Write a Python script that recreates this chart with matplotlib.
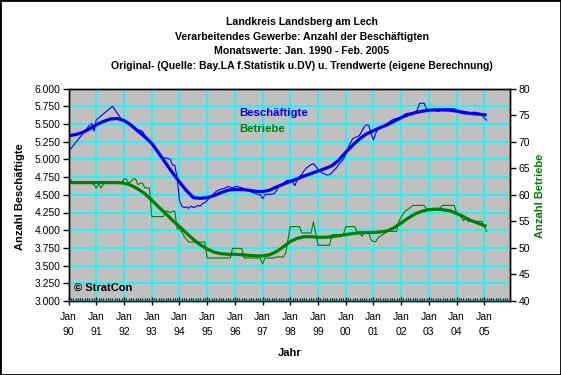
import numpy as np
import matplotlib.pyplot as plt
from matplotlib.patches import Rectangle
from matplotlib.ticker import FuncFormatter

plt.rcParams['font.family'] = ['Liberation Sans', 'DejaVu Sans']

# monthly original values Jan 1990 - Feb 2005
besch_orig = [
    5114, 5155, 5195, 5236, 5276, 5317, 5357, 5398, 5438, 5479, 5510, 5400,
    5560, 5587, 5614, 5641, 5668, 5695, 5722, 5750, 5703, 5656, 5608, 5561,
    5545, 5530, 5510, 5480, 5460, 5430, 5420, 5410, 5395, 5340, 5290, 5260,
    5225, 5180, 5140, 5090, 5030, 5020, 5020, 5015, 5000, 4920, 4916, 4740,
    4420, 4340, 4320, 4330, 4310, 4340, 4320, 4330, 4350, 4340, 4380, 4390,
    4420, 4460, 4490, 4520, 4550, 4565, 4580, 4585, 4600, 4615, 4610, 4595,
    4615, 4620, 4605, 4600, 4585, 4572, 4560, 4540, 4530, 4520, 4505, 4500,
    4445, 4500, 4510, 4505, 4510, 4515, 4560, 4620, 4640, 4662, 4690, 4709,
    4700, 4680, 4630, 4720, 4760, 4790, 4840, 4880, 4905, 4925, 4940, 4900,
    4860, 4830, 4805, 4790, 4780, 4785, 4810, 4850, 4880, 4930, 4970, 5000,
    5080, 5170, 5230, 5290, 5310, 5320, 5340, 5400, 5460, 5490, 5480, 5360,
    5275, 5370, 5430, 5465, 5470, 5490, 5510, 5530, 5557, 5570, 5580, 5585,
    5600, 5620, 5645, 5650, 5655, 5660, 5660, 5700, 5790, 5795, 5790, 5710,
    5700, 5698, 5698, 5690, 5674, 5690, 5707, 5715, 5715, 5715, 5715, 5715,
    5698, 5670, 5655, 5645, 5640, 5655, 5660, 5665, 5668, 5660, 5650, 5630,
    5585, 5555,
]

betr_orig = [
    62.8, 62.8, 62.2, 62.2, 62.2, 62.2, 62.2, 62.2, 62.2, 62.2, 62.2, 61.9,
    61.3, 62.0, 61.3, 62.0, 62.2, 62.2, 62.2, 62.2, 62.2, 62.2, 62.2, 62.2,
    63.0, 63.0, 62.2, 62.5, 63.0, 63.0, 61.9, 62.2, 62.2, 61.3, 61.3, 61.3,
    55.9, 55.9, 55.9, 55.9, 55.9, 55.9, 56.9, 56.9, 56.6, 56.9, 56.9, 53.6,
    53.6, 53.0, 52.2, 51.6, 51.1, 51.1, 51.1, 51.1, 51.1, 51.1, 51.1, 51.1,
    48.1, 48.1, 48.1, 48.1, 48.1, 48.1, 48.1, 48.1, 48.1, 48.1, 48.1, 49.9,
    49.9, 49.9, 49.9, 49.9, 48.1, 48.1, 48.1, 48.1, 48.1, 48.1, 48.1, 48.1,
    47.0, 48.1, 48.1, 48.1, 48.1, 48.1, 48.3, 48.3, 48.3, 48.3, 49.0, 51.5,
    54.0, 54.0, 54.0, 54.0, 54.0, 52.8, 52.8, 52.8, 52.8, 52.8, 54.9, 52.8,
    50.5, 50.5, 50.5, 50.5, 50.5, 50.5, 52.5, 52.5, 52.5, 52.5, 52.5, 52.5,
    54.0, 54.0, 54.0, 54.0, 54.0, 52.8, 52.8, 52.2, 52.8, 52.8, 52.8, 51.5,
    51.2, 51.2, 51.9, 52.2, 52.5, 52.8, 53.1, 53.1, 53.1, 53.1, 53.1, 55.0,
    55.8, 56.5, 57.0, 57.3, 57.6, 58.0, 58.0, 58.0, 58.0, 58.0, 58.0, 57.3,
    57.2, 57.2, 57.2, 57.3, 57.3, 57.6, 58.0, 58.0, 58.0, 58.0, 58.0, 58.0,
    56.6, 56.2, 55.9, 55.1, 55.6, 55.0, 55.0, 55.0, 55.0, 55.0, 55.0, 55.0,
    54.0, 53.1,
]

# trend values, every third month plus the last month
trend_months = list(range(0, 181, 3)) + [181]
besch_trend = [
    5335, 5350, 5380, 5430, 5490, 5535, 5570, 5578, 5550, 5485,
    5400, 5320, 5225, 5090, 4950, 4810, 4680, 4560, 4460, 4450,
    4460, 4490, 4530, 4565, 4575, 4575, 4565, 4550, 4545, 4565,
    4610, 4650, 4690, 4725, 4766, 4800, 4835, 4870, 4910, 4990,
    5100, 5200, 5290, 5360, 5405, 5450, 5490, 5540, 5590, 5630,
    5660, 5680, 5695, 5700, 5700, 5695, 5682, 5665, 5650, 5640,
    5630, 5627,
]
betr_trend = [
    62.3, 62.3, 62.3, 62.3, 62.3, 62.3, 62.3, 62.3, 62.2, 61.8,
    61.1, 60.2, 59.0, 57.7, 56.5, 55.2, 54.0, 52.8, 51.6, 50.6,
    49.8, 49.2, 48.9, 48.8, 48.8, 48.7, 48.6, 48.5, 48.5, 48.7,
    49.3, 50.2, 51.2, 51.8, 52.1, 52.1, 52.0, 52.0, 52.1, 52.3,
    52.5, 52.7, 52.85, 52.9, 52.9, 53.0, 53.2, 53.8, 54.7, 55.6,
    56.4, 56.9, 57.2, 57.3, 57.2, 57.0, 56.5, 55.9, 55.2, 54.7,
    54.2, 54.1,
]

year_labels = ['90', '91', '92', '93', '94', '95', '96', '97',
               '98', '99', '00', '01', '02', '03', '04', '05']

W, H = 561, 375
fig = plt.figure(figsize=(W / 100, H / 100), dpi=100)
ax = fig.add_axes([68.6 / W, 74 / H, (510 - 68.6) / W, (301 - 88.6) / H])
ax.set_facecolor('#c0c0c0')
ax2 = ax.twinx()

months = np.arange(len(besch_orig))
ax.plot(months, besch_orig, color='#0000ff', lw=0.8)
ax.plot(trend_months, besch_trend, color='#0000ff', lw=2.3, solid_capstyle='butt')
ax2.plot(months, betr_orig, color='#008000', lw=0.8)
ax2.plot(trend_months, betr_trend, color='#008000', lw=2.3, solid_capstyle='butt')

ax.set_xlim(0, 191.15)
ax.set_ylim(3000, 6000)
ax2.set_ylim(40, 80)

ax.set_xticks(range(0, 181, 12))
ax.set_xticklabels(['Jan\n' + y for y in year_labels])
ax.set_xticks(range(0, 192), minor=True)
ax.set_yticks(range(3000, 6001, 250))
ax.yaxis.set_major_formatter(FuncFormatter(lambda v, p: f'{v:,.0f}'.replace(',', '.')))
ax2.set_yticks(range(40, 81, 5))

ax.set_axisbelow(True)
ax.grid(True, which='major', color='#00ffff', lw=1.2)

ax.tick_params(axis='x', which='major', direction='inout', length=6, width=1,
               labelsize=7.5, pad=5)
ax.tick_params(axis='x', which='minor', direction='in', length=2, width=0.8)
ax.tick_params(axis='y', direction='out', length=4, width=1, labelsize=7.5, pad=2)
ax2.tick_params(axis='y', direction='out', length=4, width=1, labelsize=7.5, pad=2)
for lab in ax.get_xticklabels():
    lab.set_linespacing(1.6)

for sp in list(ax.spines.values()) + list(ax2.spines.values()):
    sp.set_color('black')
    sp.set_linewidth(1)

titles = ['Landkreis Landsberg am Lech',
          'Verarbeitendes Gewerbe: Anzahl der Beschäftigten',
          'Monatswerte: Jan. 1990 - Feb. 2005',
          'Original- (Quelle: Bay.LA f.Statistik u.DV) u. Trendwerte (eigene Berechnung)']
for i, t in enumerate(titles):
    fig.text(302 / W, 1 - (22 + 14.7 * i) / H, t, ha='center', va='center',
             fontsize=7.6, fontweight='bold')

fig.text(20.5 / W, 1 - 197 / H, 'Anzahl Beschäftigte', rotation=90,
         ha='center', va='center', fontsize=8, fontweight='bold')
fig.text(540 / W, 1 - 196 / H, 'Anzahl Betriebe', rotation=90, color='#008000',
         ha='center', va='center', fontsize=8, fontweight='bold')
fig.text(290 / W, 1 - 353 / H, 'Jahr', ha='center', va='center',
         fontsize=8, fontweight='bold')

fig.text(239 / W, 1 - 113 / H, 'Beschäftigte', color='#0000ff', ha='left',
         va='center', fontsize=8.2, fontweight='bold')
fig.text(239 / W, 1 - 129.5 / H, 'Betriebe', color='#008000', ha='left',
         va='center', fontsize=8.2, fontweight='bold')
fig.text(73.7 / W, 1 - 287.5 / H, '© StratCon', ha='left', va='center',
         fontsize=8, fontweight='bold')

fig.patches.append(Rectangle((0, 0), 1, 1, transform=fig.transFigure, fill=False,
                             edgecolor='black', lw=2))

fig.savefig('out.png', dpi=100)
